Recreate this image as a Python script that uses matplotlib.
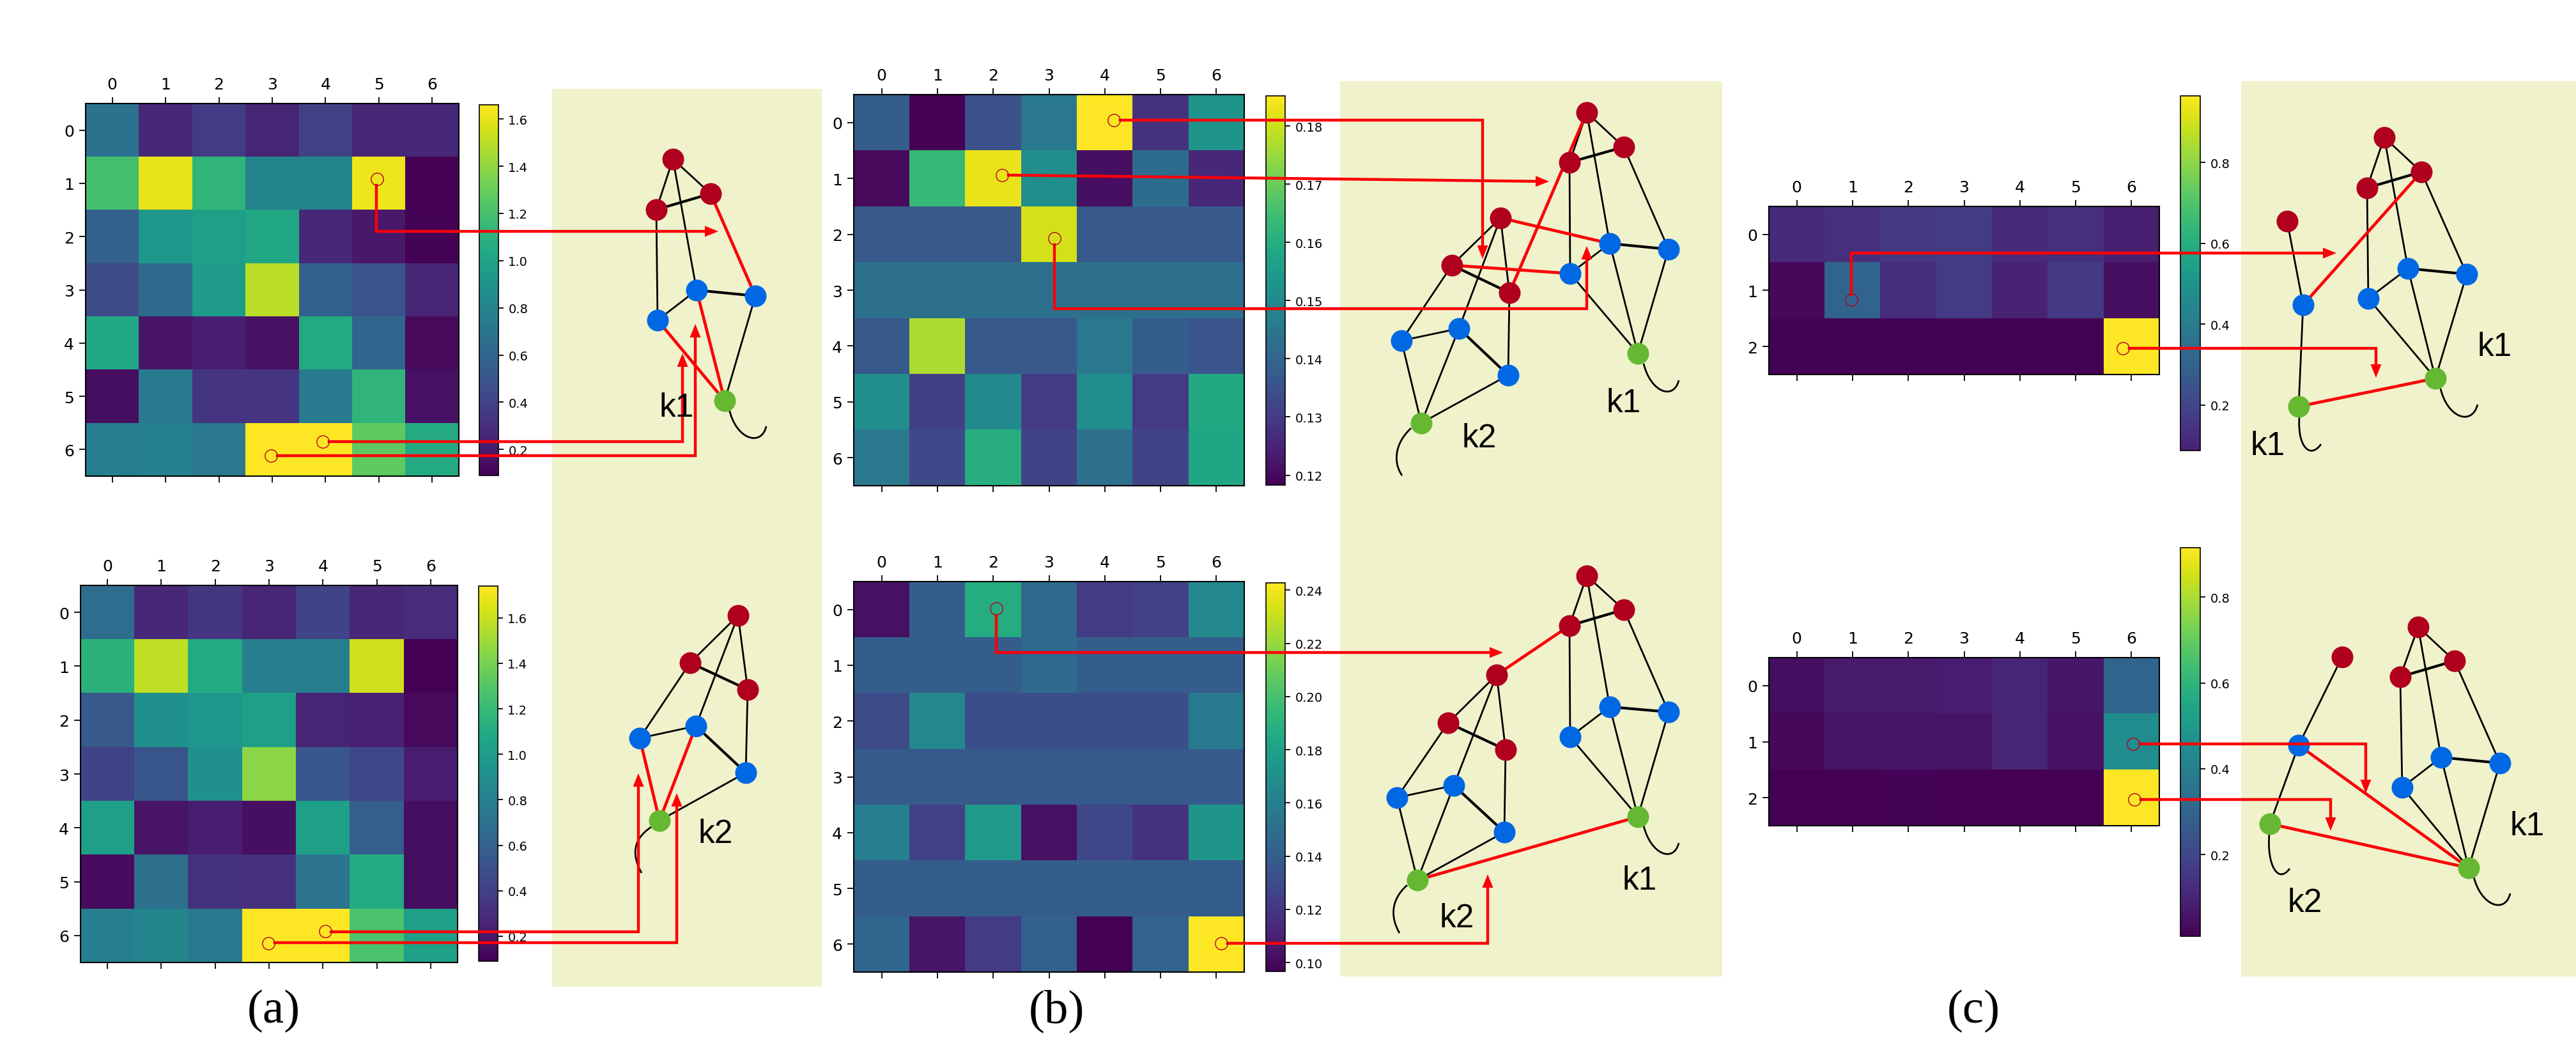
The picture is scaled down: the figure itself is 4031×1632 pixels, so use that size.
import numpy as np
import matplotlib
matplotlib.use("Agg")
import matplotlib.pyplot as plt
from matplotlib.path import Path
from matplotlib.patches import PathPatch, Rectangle

W = 4031
H = 1633

# heatmap values
a1 = [[0.68, 0.27, 0.37, 0.25, 0.40, 0.26, 0.27],
      [1.20, 1.60, 1.12, 0.80, 0.80, 1.62, 0.09],
      [0.58, 0.92, 0.98, 1.03, 0.27, 0.20, 0.10],
      [0.45, 0.63, 0.95, 1.50, 0.58, 0.50, 0.26],
      [1.03, 0.17, 0.22, 0.16, 1.05, 0.60, 0.13],
      [0.15, 0.73, 0.33, 0.33, 0.74, 1.12, 0.16],
      [0.76, 0.78, 0.72, 1.66, 1.66, 1.27, 1.05]]
a2 = [[0.68, 0.28, 0.35, 0.27, 0.42, 0.28, 0.30],
      [1.15, 1.58, 1.10, 0.80, 0.80, 1.62, 0.09],
      [0.55, 0.92, 0.96, 1.03, 0.26, 0.24, 0.13],
      [0.42, 0.53, 0.92, 1.45, 0.53, 0.45, 0.22],
      [1.02, 0.18, 0.23, 0.16, 1.02, 0.58, 0.15],
      [0.14, 0.70, 0.33, 0.32, 0.72, 1.10, 0.15],
      [0.80, 0.84, 0.76, 1.74, 1.74, 1.27, 1.03]]
b1 = [[.138, .1183, .135, .145, .1852, .128, .153],
      [.120, .163, .183, .151, .121, .142, .126],
      [.137, .137, .137, .181, .137, .137, .137],
      [.143, .143, .143, .143, .143, .143, .143],
      [.137, .177, .137, .137, .145, .138, .136],
      [.151, .131, .150, .130, .151, .130, .159],
      [.145, .133, .160, .132, .143, .132, .158]]
b2 = [[.103, .140, .187, .147, .122, .125, .165],
      [.140, .140, .140, .147, .140, .140, .140],
      [.130, .165, .132, .132, .132, .132, .156],
      [.138, .138, .138, .138, .138, .138, .138],
      [.160, .125, .175, .103, .128, .118, .172],
      [.140, .140, .140, .140, .140, .140, .140],
      [.145, .105, .122, .142, .0967, .143, .2427]]
c1 = [[.115, .135, .160, .170, .115, .130, .085],
      [.020, .310, .125, .170, .095, .165, .040],
      [.005, .005, .005, .005, .005, .005, .965]]
c2 = [[.045, .075, .075, .080, .105, .065, .300],
      [.030, .060, .060, .060, .105, .050, .450],
      [.012, .010, .018, .012, .010, .010, .915]]

a_ticks = [0.2, 0.4, 0.6, 0.8, 1.0, 1.2, 1.4, 1.6]
b1_ticks = [0.12, 0.13, 0.14, 0.15, 0.16, 0.17, 0.18]
b2_ticks = [0.10, 0.12, 0.14, 0.16, 0.18, 0.20, 0.22, 0.24]
c_ticks = [0.2, 0.4, 0.6, 0.8]

# graph sketches, order: top red, left red, right red, mid blue, left blue, right blue, green
EDGES = [(0, 1), (0, 2), (1, 2), (0, 3), (1, 4), (2, 5), (3, 4), (3, 5), (6, 3), (6, 4), (6, 5)]
THICK = [(1, 2), (3, 5)]
NODE_COL = ["#b0001e"] * 3 + ["#0068e3"] * 3 + ["#66b832"]

g_a1 = [(1053, 250), (1027, 329), (1112, 304), (1090, 455), (1029, 502), (1182, 464), (1134, 628)]
g_a2 = [(1155, 964), (1080, 1038), (1170, 1080), (1089, 1137), (1001, 1156), (1167, 1210), (1032, 1285)]
g_b1_k1 = [(2483, 177), (2456, 255), (2541, 231), (2519, 382), (2457, 429), (2611, 391), (2563, 554)]
g_b1_k2 = [(2348, 342), (2272, 416), (2362, 459), (2283, 515), (2193, 534), (2360, 588), (2224, 663)]
g_b2_k1 = [(2483, 902), (2456, 980), (2541, 955), (2519, 1107), (2457, 1154), (2611, 1115), (2563, 1279)]
g_b2_k2 = [(2342, 1057), (2266, 1132), (2356, 1174), (2275, 1230), (2186, 1249), (2354, 1303), (2218, 1378)]
g_c1_k1 = [(3731, 216), (3704, 295), (3789, 270), (3768, 421), (3706, 468), (3860, 430), (3811, 593)]
g_c2_k1 = [(3784, 982), (3756, 1060), (3841, 1035), (3820, 1186), (3759, 1233), (3912, 1195), (3863, 1359)]
# the two small ones in (c): red, blue, green
g_c1_k2 = [(3579, 347), (3604, 478), (3597, 637)]
g_c2_k2 = [(3665, 1029), (3597, 1167), (3552, 1290)]

tails = [[(1141, 641), (1152, 690), (1192, 700), (1199, 668)],
         [(1019, 1295), (989, 1315), (989, 1340), (1004, 1367)],
         [(2572, 570), (2583, 615), (2619, 628), (2627, 596)],
         [(2208, 671), (2182, 695), (2180, 725), (2194, 745)],
         [(2572, 1293), (2583, 1338), (2619, 1352), (2627, 1320)],
         [(2202, 1386), (2177, 1408), (2175, 1435), (2190, 1461)],
         [(3819, 609), (3830, 655), (3868, 668), (3877, 634)],
         [(3598, 654), (3595, 700), (3615, 720), (3632, 696)],
         [(3871, 1373), (3882, 1418), (3920, 1432), (3928, 1399)],
         [(3551, 1306), (3547, 1355), (3565, 1385), (3583, 1360)]]

# red links between nodes
red_links = [(g_a1[2], g_a1[5]), (g_a1[3], g_a1[6]), (g_a1[4], g_a1[6]),
             (g_a2[3], g_a2[6]), (g_a2[4], g_a2[6]),
             (g_b1_k2[0], g_b1_k1[3]), (g_b1_k2[1], g_b1_k1[4]), (g_b1_k2[2], g_b1_k1[0]),
             (g_b2_k2[0], g_b2_k1[1]), (g_b2_k2[6], g_b2_k1[6]),
             (g_c1_k2[1], g_c1_k1[2]), (g_c1_k2[2], g_c1_k1[6]),
             (g_c2_k2[1], g_c2_k1[6]), (g_c2_k2[2], g_c2_k1[6])]

# the red pointers from a heatmap cell to the sketch
arrows = [[(589, 291), (589, 363), (1124, 363)],
          [(515, 692), (1068, 692), (1068, 554)],
          [(434, 714), (1088, 714), (1088, 508)],
          [(518, 1459), (999, 1459), (999, 1211)],
          [(430, 1476), (1059, 1476), (1059, 1242)],
          [(1753, 189), (2320, 189), (2320, 406)],
          [(1578, 275), (2424, 285)],
          [(1650, 384), (1650, 484), (2483, 484), (2483, 386)],
          [(1559, 964), (1559, 1022), (2352, 1022)],
          [(1921, 1477), (2328, 1477), (2328, 1369)],
          [(2897, 462), (2897, 397), (3656, 397)],
          [(3332, 546), (3718, 546), (3718, 592)],
          [(3349, 1165), (3702, 1165), (3702, 1242)],
          [(3350, 1252), (3647, 1252), (3647, 1301)]]
circles = [(590, 281), (505, 692), (424, 714), (509, 1458), (420, 1477),
           (1743, 189), (1568, 275), (1650, 374), (1559, 953), (1911, 1477),
           (2897, 470), (3322, 546), (3338, 1165), (3340, 1252)]

k_labels = [("k1", 1059, 639), ("k2", 1120, 1306), ("k1", 2541, 632), ("k2", 2315, 687),
            ("k1", 2566, 1379), ("k2", 2280, 1438), ("k1", 3904, 544), ("k1", 3549, 699),
            ("k1", 3955, 1294), ("k2", 3607, 1414)]
panel_labels = [("(a)", 428, 1582), ("(b)", 1653, 1582), ("(c)", 3088, 1582)]
panels = [(864, 140, 1286, 1545), (2097, 128, 2695, 1529), (3507, 128, 4031, 1529)]

fig = plt.figure(figsize=(W / 100, H / 100), dpi=100)


def px_axes(x0, y0, x1, y1):
    return fig.add_axes([x0 / W, 1 - y1 / H, (x1 - x0) / W, (y1 - y0) / H])


def heat(data, box, cbox, ticks, fmt, vmin=None, cb_range=None):
    ax = px_axes(*box)
    data = np.array(data)
    im = ax.imshow(data, cmap="viridis", aspect="auto", vmin=vmin, interpolation="nearest")
    ax.set_xticks(range(data.shape[1]))
    ax.set_yticks(range(data.shape[0]))
    ax.tick_params(top=True, labeltop=True, bottom=True, labelbottom=False,
                   labelsize=18, length=7, width=1.3, pad=6)
    for s in ax.spines.values():
        s.set_linewidth(1.5)
    cax = px_axes(*cbox)
    cb = fig.colorbar(im, cax=cax)
    cb.set_ticks(ticks)
    cb.ax.set_yticklabels([fmt % t for t in ticks])
    cb.ax.tick_params(labelsize=14, length=6, width=1.3, pad=5)
    cb.outline.set_linewidth(1.2)
    if cb_range is not None:
        cax.set_ylim(*cb_range)


heat(a1, (134, 163, 718, 746), (750, 165, 780, 745), a_ticks, "%.1f")
heat(a2, (126, 917, 716, 1507), (749, 918, 779, 1505), a_ticks, "%.1f")
heat(b1, (1336, 149, 1947, 761), (1981, 151, 2011, 760), b1_ticks, "%.2f")
heat(b2, (1336, 911, 1947, 1522), (1981, 913, 2011, 1521), b2_ticks, "%.2f")
# this colorbar is cut at the bottom in the picture
heat(c1, (2768, 324, 3379, 587), (3412, 151, 3443, 706), c_ticks, "%.1f", vmin=0.0, cb_range=(0.087, 0.965))
heat(c2, (2768, 1030, 3379, 1293), (3412, 858, 3443, 1466), c_ticks, "%.1f")

# everything else goes on one see-through axes in pixel units
ov = fig.add_axes([0, 0, 1, 1], zorder=10)
ov.set_xlim(0, W)
ov.set_ylim(H, 0)
ov.axis("off")

for x0, y0, x1, y1 in panels:
    ov.add_patch(Rectangle((x0, y0), x1 - x0, y1 - y0, fc="#f0f2cc", ec="none", zorder=0))

red_set = [frozenset(l) for l in red_links]


def draw_edge(p, q, lw):
    if frozenset((p, q)) in red_set:
        return
    ov.plot([p[0], q[0]], [p[1], q[1]], color="black", lw=lw, zorder=2, solid_capstyle="round")


for g in [g_a1, g_a2, g_b1_k1, g_b1_k2, g_b2_k1, g_b2_k2, g_c1_k1, g_c2_k1]:
    for i, j in EDGES:
        draw_edge(g[i], g[j], 3.0 if (i, j) in THICK else 2.0)
    for p, c in zip(g, NODE_COL):
        ov.plot(p[0], p[1], "o", ms=24.5, mfc=c, mec="none", zorder=4)

for g in [g_c1_k2, g_c2_k2]:
    draw_edge(g[0], g[1], 2.0)
    draw_edge(g[1], g[2], 2.0)
    for p, c in zip(g, [NODE_COL[0], NODE_COL[3], NODE_COL[6]]):
        ov.plot(p[0], p[1], "o", ms=24.5, mfc=c, mec="none", zorder=4)

for t in tails:
    ov.add_patch(PathPatch(Path(t, [Path.MOVETO, Path.CURVE4, Path.CURVE4, Path.CURVE4]),
                           fc="none", ec="black", lw=2.0, zorder=2))

for p, q in red_links:
    ov.plot([p[0], q[0]], [p[1], q[1]], color="#fb0007", lw=3.4, zorder=3)

for a in arrows:
    pts = np.array(a, dtype=float)
    d = pts[-1] - pts[-2]
    d = d / np.hypot(d[0], d[1])
    n = np.array([-d[1], d[0]])
    base = pts[-1] - d * 21
    line = np.vstack([pts[:-1], base])
    ov.plot(line[:, 0], line[:, 1], color="#fb0007", lw=3.2, zorder=5, solid_joinstyle="miter")
    head = np.array([pts[-1], base + n * 8.5, base - n * 8.5])
    ov.fill(head[:, 0], head[:, 1], color="#fb0007", lw=0, zorder=5)

for x, y in circles:
    ov.plot(x, y, "o", ms=14, mfc="none", mec="#b80020", mew=1.0, zorder=6)

for s, x, y in k_labels:
    ov.text(x, y, s, family="Liberation Sans", fontsize=37, ha="center", va="center", zorder=7)
for s, x, y in panel_labels:
    ov.text(x, y, s, family="Liberation Serif", fontsize=54, ha="center", va="center", zorder=7)

fig.savefig("out.png", dpi=100)
